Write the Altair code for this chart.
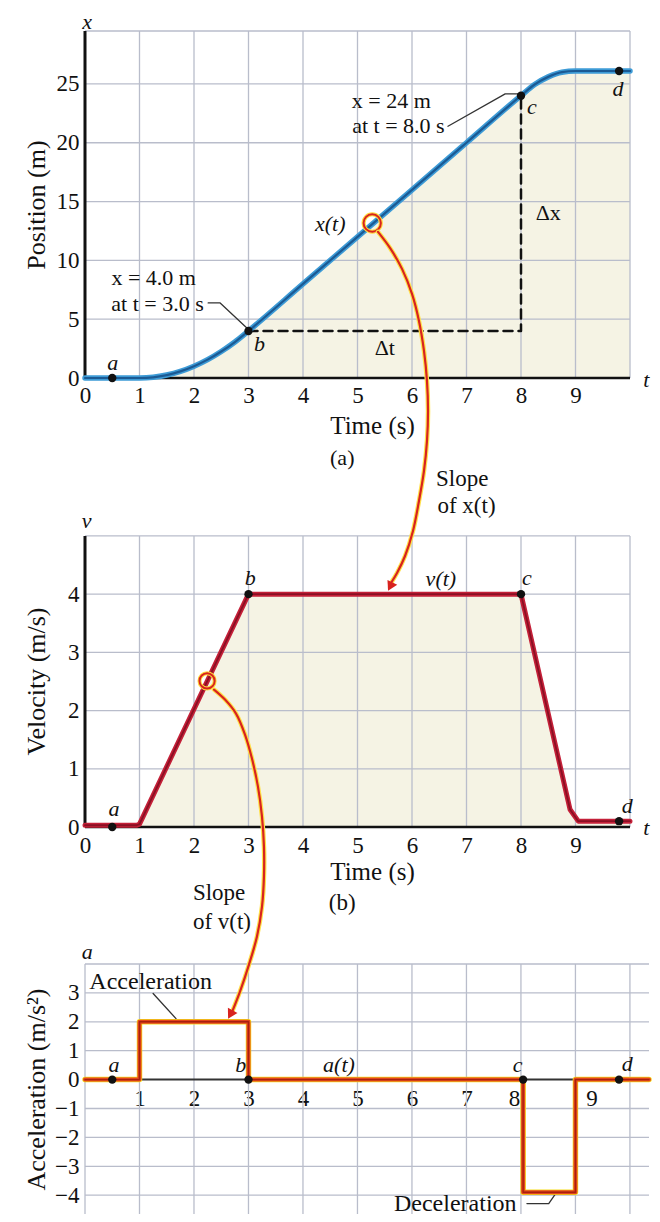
import altair as alt
import pandas as pd

FONT = "Liberation Serif"
GRID = "#b9bdcb"
BEIGE = "#f5f3e4"
INK = "#111111"

# ---------------- (a) position ----------------
pos_t = [0.0, 0.5, 1.0, 1.25, 1.5, 1.75, 2.0, 2.25, 2.5, 2.75, 3.0, 4.0, 5.0, 6.0, 7.0, 8.0, 8.25, 8.5, 8.75, 9.0, 10.0]
pos_x = [0.0, 0.0, 0.0, 0.06, 0.25, 0.56, 1.0, 1.56, 2.25, 3.06, 4.0, 8.0, 12.0, 16.0, 20.0, 24.0, 24.95, 25.6, 26.0, 26.1, 26.1]
pos_mark_t = [0.5, 3.0, 8.0, 9.8]
pos_mark_x = [0.0, 4.0, 24.0, 26.1]
pos_dash_t = [3.0, 8.0, 8.0]
pos_dash_x = [4.0, 4.0, 24.0]
pos_lead1_t = [6.66, 7.71, 7.98]
pos_lead1_x = [21.4, 24.15, 24.15]
pos_lead2_t = [2.26, 2.48, 2.97]
pos_lead2_x = [6.38, 6.38, 4.25]
pos_ring_t = [5.27]
pos_ring_x = [13.18]
pos_vgrid = [1, 2, 3, 4, 5, 6, 7, 8, 9, 10]
pos_hgrid = [5, 10, 15, 20, 25, 29.5]
pos_xticks = [0, 1, 2, 3, 4, 5, 6, 7, 8, 9]
pos_yticks = [0, 5, 10, 15, 20, 25]
pos_txt = ["x = 24 m", "at t = 8.0 s", "x = 4.0 m", "at t = 3.0 s", "Δx", "Δt", "(a)"]
pos_txt_t = [5.62, 5.75, 1.26, 1.33, 8.5, 5.5, 4.72]
pos_txt_x = [23.55, 21.43, 8.5, 6.29, 14.0, 2.55, -6.8]
pos_itxt = ["x", "t", "a", "b", "c", "d", "x(t)"]
pos_itxt_t = [0.04, 10.3, 0.51, 3.2, 8.2, 9.78, 4.5]
pos_itxt_x = [30.27, -0.2, 1.25, 2.85, 23.0, 24.6, 13.1]

# ---------------- (b) velocity ----------------
vel_t = [0.0, 0.95, 1.0, 3.0, 8.0, 8.9, 9.05, 10.0]
vel_v = [0.03, 0.03, 0.05, 4.0, 4.0, 0.3, 0.1, 0.1]
vel_mark_t = [0.5, 3.0, 8.0, 9.8]
vel_mark_v = [0.0, 4.0, 4.0, 0.1]
vel_ring_t = [2.24]
vel_ring_v = [2.51]
vel_vgrid = [1, 2, 3, 4, 5, 6, 7, 8, 9, 10]
vel_hgrid = [1, 2, 3, 4, 5]
vel_yticks = [0, 1, 2, 3, 4]
arrow1_t = [5.376, 5.596, 5.817, 6.0, 6.128, 6.22, 6.275, 6.294, 6.275, 6.22, 6.128, 6.018, 5.872, 5.725, 5.62]
arrow1_v = [10.223, 9.948, 9.588, 9.158, 8.694, 8.179, 7.663, 7.148, 6.632, 6.117, 5.601, 5.086, 4.656, 4.364, 4.2]
arrow1_head_t = [5.6]
arrow1_head_v = [4.13]
vel_txt = ["Slope", "of x(t)", "(b)"]
vel_txt_t = [6.92, 7.0, 4.72]
vel_txt_v = [5.98, 5.52, -1.31]
vel_itxt = ["v", "t", "a", "b", "c", "d", "v(t)"]
vel_itxt_t = [0.03, 10.3, 0.53, 3.03, 8.11, 9.95, 6.53]
vel_itxt_v = [5.26, -0.02, 0.31, 4.28, 4.28, 0.36, 4.26]

# ---------------- (c) acceleration ----------------
acc_t = [0.0, 1.0, 1.0, 3.0, 3.0, 8.04, 8.04, 9.0, 9.0, 10.35]
acc_a = [0.0, 0.0, 2.0, 2.0, 0.0, 0.0, -3.9, -3.9, 0.0, 0.0]
acc_mark_t = [0.5, 3.0, 8.04, 9.8]
acc_mark_a = [0.0, 0.0, 0.0, 0.0]
acc_vgrid = [0, 1, 2, 3, 4, 5, 6, 7, 8, 9, 10]
acc_hgrid = [-4, -3, -2, -1, 1, 2, 3, 4]
acc_xticks = [1, 2, 3, 4, 5, 6, 7, 8, 9]
acc_yticks = [-4, -3, -2, -1, 0, 1, 2, 3]
arrow2_t = [2.367, 2.569, 2.771, 2.936, 3.064, 3.174, 3.248, 3.284, 3.284, 3.248, 3.156, 3.009, 2.844, 2.69]
arrow2_a = [13.495, 13.149, 12.664, 11.938, 11.107, 10.138, 9.1, 8.062, 7.024, 5.986, 4.948, 3.979, 3.045, 2.3]
arrow2_head_t = [2.668]
arrow2_head_a = [2.25]
acc_lead1_t = [1.25, 1.67]
acc_lead1_a = [2.98, 2.11]
acc_lead2_t = [8.11, 8.51, 8.64]
acc_lead2_a = [-4.29, -4.29, -3.94]
acc_txt = ["Acceleration", "Deceleration", "Slope", "of v(t)"]
acc_txt_t = [0.08, 5.67, 1.98, 1.98]
acc_txt_a = [3.39, -4.29, 6.44, 5.47]
acc_itxt = ["a", "a", "b", "a(t)", "c", "d"]
acc_itxt_t = [0.04, 0.53, 2.86, 4.66, 7.94, 9.95]
acc_itxt_a = [4.43, 0.52, 0.52, 0.52, 0.52, 0.55]

XA = alt.Scale(domain=[0, 10], nice=False, zero=False)
YA = alt.Scale(domain=[0, 29.5], nice=False, zero=False)
XB = alt.Scale(domain=[0, 10], nice=False, zero=False)
YB = alt.Scale(domain=[0, 5.36], nice=False, zero=False)
XC = alt.Scale(domain=[0, 10.35], nice=False, zero=False)
YC = alt.Scale(domain=[-4.65, 4], nice=False, zero=False)

axA_x = alt.Axis(values=pos_xticks, title="Time (s)", titleX=287, titlePadding=6, labelPadding=6)
axA_y = alt.Axis(values=pos_yticks, title="Position (m)", minExtent=30, maxExtent=30, titlePadding=6,
                 labelPadding=6, titleFontSize=26)
axB_x = alt.Axis(values=pos_xticks, title="Time (s)", titleX=287, titlePadding=2, labelPadding=7)
axB_y = alt.Axis(values=vel_yticks, title="Velocity (m/s)", minExtent=30, maxExtent=30, titlePadding=6,
                 labelPadding=6, titleY=166, titleFontSize=26)
axC_x = alt.Axis(values=acc_xticks, title="", offset=-134.4, labelPadding=8,
                 labelOffset={"condition": [{"test": "datum.value == 8", "value": -7},
                                            {"test": "datum.value == 9", "value": 16}], "value": 0})
axC_y = alt.Axis(values=acc_yticks, title="Acceleration (m/s²)", minExtent=30, maxExtent=30, titlePadding=6,
                 labelPadding=6, titleFontSize=26)

AX = {"a": (XA, YA, axA_x, axA_y), "b": (XB, YB, axB_x, axB_y), "c": (XC, YC, axC_x, axC_y)}


def enc_x(field, p):
    return alt.X(field, scale=AX[p][0], axis=AX[p][2])


def enc_y(field, p):
    return alt.Y(field, scale=AX[p][1], axis=AX[p][3])


def seg_v(ts, lo, hi, p, color, w):
    df = pd.DataFrame({"t": ts, "lo": [lo] * len(ts), "hi": [hi] * len(ts)})
    return alt.Chart(df).mark_rule(color=color, strokeWidth=w).encode(
        x=enc_x("t:Q", p), y=enc_y("lo:Q", p), y2="hi:Q")


def seg_h(vs, lo, hi, p, color, w):
    df = pd.DataFrame({"v": vs, "lo": [lo] * len(vs), "hi": [hi] * len(vs)})
    return alt.Chart(df).mark_rule(color=color, strokeWidth=w).encode(
        y=enc_y("v:Q", p), x=enc_x("lo:Q", p), x2="hi:Q")


def path(ts, vs, p, color, w, interp="linear", dash=None):
    df = pd.DataFrame({"t": ts, "v": vs, "i": list(range(len(ts)))})
    kw = dict(color=color, strokeWidth=w, interpolate=interp, strokeCap="round", strokeJoin="round")
    if dash:
        kw["strokeDash"] = dash
    return alt.Chart(df).mark_line(**kw).encode(x=enc_x("t:Q", p), y=enc_y("v:Q", p), order="i:Q")


def area(ts, vs, p, interp):
    df = pd.DataFrame({"t": ts, "v": vs})
    return alt.Chart(df).mark_area(color=BEIGE, interpolate=interp).encode(
        x=enc_x("t:Q", p), y=enc_y("v:Q", p))


def dots(ts, vs, p, size=70, color=INK, filled=True, shape="circle", angle=0, sw=1):
    df = pd.DataFrame({"t": ts, "v": vs})
    if filled:
        mk = alt.Chart(df).mark_point(shape=shape, size=size, filled=True, color=color, opacity=1, angle=angle)
    else:
        mk = alt.Chart(df).mark_point(shape=shape, size=size, filled=False, color=color, strokeWidth=sw, opacity=1)
    return mk.encode(x=enc_x("t:Q", p), y=enc_y("v:Q", p))


def words(labels, ts, vs, p, size=22, italic=False, align="center"):
    df = pd.DataFrame({"t": ts, "v": vs, "s": labels})
    return alt.Chart(df).mark_text(font=FONT, fontSize=size, fontStyle="italic" if italic else "normal",
                                   align=align, baseline="middle", color=INK).encode(
        x=enc_x("t:Q", p), y=enc_y("v:Q", p), text="s:N")


# ---------- panel (a) ----------
panel_a = alt.layer(
    area(pos_t, pos_x, "a", "monotone"),
    seg_v(pos_vgrid, 0, 29.5, "a", GRID, 1.3),
    seg_h(pos_hgrid, 0, 10, "a", GRID, 1.3),
    seg_h([0], 0, 10, "a", INK, 2.5),
    seg_v([0], 0, 29.5, "a", INK, 3),
    path(pos_dash_t, pos_dash_x, "a", INK, 2.5, dash=[9, 6]),
    path(pos_lead1_t, pos_lead1_x, "a", "#333333", 1.3),
    path(pos_lead2_t, pos_lead2_x, "a", "#333333", 1.3),
    path(pos_t, pos_x, "a", "#3d9bd6", 5.5, interp="monotone"),
    path(pos_t, pos_x, "a", "#1b5a94", 2.2, interp="monotone"),
    dots(pos_mark_t, pos_mark_x, "a"),
    dots(pos_ring_t, pos_ring_x, "a", size=300, color="#ffd83a", filled=False, sw=4),
    dots(pos_ring_t, pos_ring_x, "a", size=300, color="#d8231f", filled=False, sw=2),
    words(pos_txt, pos_txt_t, pos_txt_x, "a", size=22),
    words(pos_itxt, pos_itxt_t, pos_itxt_x, "a", size=22, italic=True),
).properties(width=545, height=347)

# ---------- panel (b) ----------
panel_b = alt.layer(
    area(vel_t, vel_v, "b", "linear"),
    seg_v(vel_vgrid, 0, 5, "b", GRID, 1.3),
    seg_h(vel_hgrid, 0, 10, "b", GRID, 1.3),
    seg_h([0], 0, 10, "b", INK, 2.5),
    seg_v([0], 0, 5, "b", INK, 3),
    path(vel_t, vel_v, "b", "#c42038", 5),
    path(vel_t, vel_v, "b", "#8a1024", 1.8),
    path(arrow1_t, arrow1_v, "b", "#ffe14a", 4.5, interp="catmull-rom"),
    path(arrow1_t, arrow1_v, "b", "#d8231f", 2.2, interp="catmull-rom"),
    dots(arrow1_head_t, arrow1_head_v, "b", size=120, color="#d8231f", shape="triangle-down", angle=27),
    dots(vel_mark_t, vel_mark_v, "b"),
    dots(vel_ring_t, vel_ring_v, "b", size=230, color="#ffd83a", filled=False, sw=4),
    dots(vel_ring_t, vel_ring_v, "b", size=230, color="#d8231f", filled=False, sw=2),
    words(vel_txt, vel_txt_t, vel_txt_v, "b", size=23),
    words(vel_itxt, vel_itxt_t, vel_itxt_v, "b", size=22, italic=True),
).properties(width=545, height=312)

# ---------- panel (c) ----------
panel_c = alt.layer(
    seg_v(acc_vgrid, -4.65, 4, "c", GRID, 1.3),
    seg_h(acc_hgrid, 0, 10.35, "c", GRID, 1.3),
    seg_h([0], 0, 10.35, "c", "#333333", 2),
    path(acc_lead1_t, acc_lead1_a, "c", "#333333", 1.3),
    path(acc_lead2_t, acc_lead2_a, "c", "#333333", 1.3),
    path(acc_t, acc_a, "c", "#f5dc1a", 5.5),
    path(acc_t, acc_a, "c", "#e2441c", 4),
    path(acc_t, acc_a, "c", "#a8200e", 1.4),
    path(arrow2_t, arrow2_a, "c", "#ffe14a", 4.5, interp="catmull-rom"),
    path(arrow2_t, arrow2_a, "c", "#d8231f", 2.2, interp="catmull-rom"),
    dots(arrow2_head_t, arrow2_head_a, "c", size=120, color="#d8231f", shape="triangle-down", angle=29),
    dots(acc_mark_t, acc_mark_a, "c"),
    words(acc_txt[:2], acc_txt_t[:2], acc_txt_a[:2], "c", size=24, align="left"),
    words(acc_txt[2:], acc_txt_t[2:], acc_txt_a[2:], "c", size=23, align="left"),
    words(acc_itxt, acc_itxt_t, acc_itxt_a, "c", size=22, italic=True),
).properties(width=564, height=250)

chart = alt.vconcat(panel_a, panel_b, panel_c, spacing=137, bounds="flush").properties(
    padding={"left": 15, "top": 2, "right": 0, "bottom": 0}
).configure_view(stroke=None).configure_axis(
    labelFont=FONT, labelFontSize=23, labelColor=INK,
    titleFont=FONT, titleFontSize=25, titleFontWeight="normal", titleColor=INK,
    ticks=False, tickSize=0, domain=False, grid=False, labelFlush=False, labelOverlap=False,
)

chart.save("out.html", embed_options={"renderer": "svg", "actions": False})
